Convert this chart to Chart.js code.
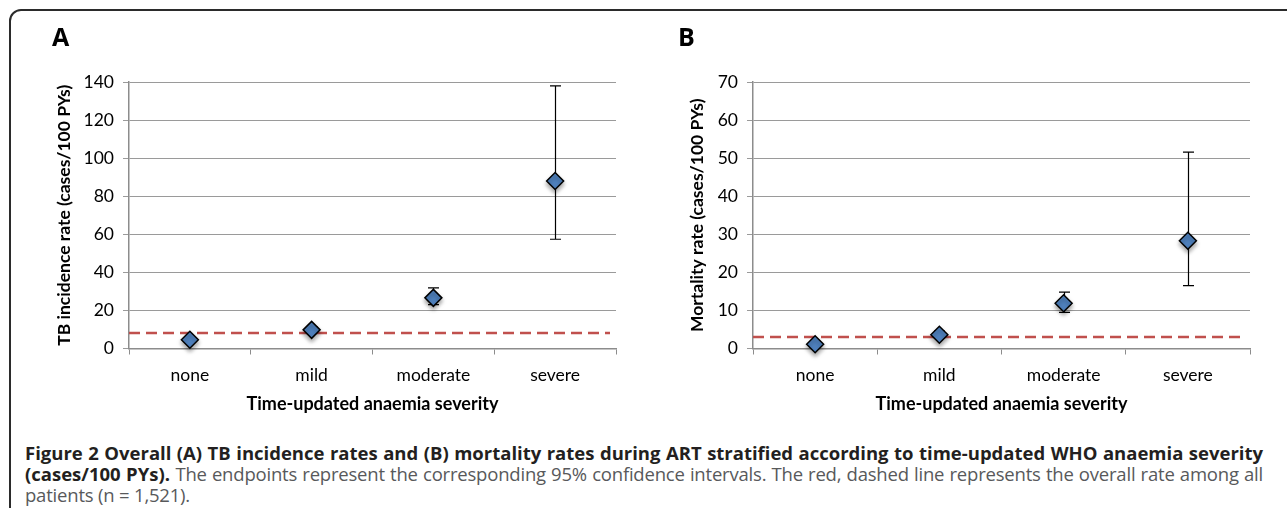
<!DOCTYPE html>
<html>
<head>
<meta charset="utf-8">
<script src="https://cdn.jsdelivr.net/npm/chart.js@4/dist/chart.umd.min.js"></script>
<style>
  body { margin: 0; width: 1287px; height: 508px; background: #fff; overflow: hidden; position: relative; font-family: "Open Sans", sans-serif; }
  .frame { position: absolute; left: 9px; top: 9px; width: 1400px; height: 600px; border: 2px solid #2b2b2b; border-radius: 12px; }
  canvas { position: absolute; top: 0; }
  #graficoA { left: 0; }
  #graficoB { left: 640px; }
  .painel { position: absolute; font: bold 25px "Open Sans", sans-serif; color: #000; }
  .legenda { position: absolute; left: 25px; width: 1238px; font-size: 15px; line-height: 21px; color: #58595b; }
  .legenda div { text-align: justify; text-align-last: justify; white-space: nowrap; }
  .legenda div.ultima { text-align-last: left; }
  .legenda b { color: #231f20; }
  .medida { position: absolute; visibility: hidden; white-space: nowrap; }
</style>
</head>
<body>
<div class="frame"></div>
<canvas id="graficoA" width="640" height="420"></canvas>
<canvas id="graficoB" width="647" height="420"></canvas>
<div class="painel" style="left:52px; top:19px;">A</div>
<div class="painel" style="left:678px; top:19px;">B</div>
<div class="legenda" id="legenda">
  <div id="linha1"><b>Figure 2 Overall (A) TB incidence rates and (B) mortality rates during ART stratified according to time-updated WHO anaemia severity</b></div>
  <div id="linha2"><b>(cases/100 PYs).</b> <span class="reg">The endpoints represent the corresponding 95% confidence intervals. The red, dashed line represents the overall rate among all</span></div>
  <div class="ultima"><span class="reg">patients (n = 1,521).</span></div>
</div>
<script>
const categorias = ['none', 'mild', 'moderate', 'severe'];

// A: incidência de TB (casos/100 PYs)
const tbTaxa = [4.6, 9.8, 26.6, 88];
const tbInferior = [3.8, 8.6, 23, 57.4];
const tbSuperior = [5.6, 11.2, 31.8, 138];
const tbGeral = 8.1;
const tbTicks = { max: 140, passo: 20 };

// B: mortalidade (casos/100 PYs)
const mortTaxa = [1.1, 3.6, 11.9, 28.3];
const mortInferior = [0.7, 2.8, 9.5, 16.5];
const mortSuperior = [1.7, 4.6, 14.8, 51.6];
const mortGeral = 3.0;
const mortTicks = { max: 70, passo: 10 };

const fonte = 'Lato';

// legenda: maior fonte em que a primeira linha cabe; texto normal mais apertado
(function ajustarLegenda() {
    const leg = document.getElementById('legenda');
    const largura = 1228;
    const medir = (html, estilo) => {
        const s = document.createElement('span');
        s.className = 'medida';
        s.innerHTML = html;
        Object.assign(s.style, estilo);
        document.body.appendChild(s);
        const w = s.getBoundingClientRect().width;
        s.remove();
        return w;
    };
    let tamanho = 19;
    const texto1 = document.querySelector('#linha1 b').innerHTML;
    while (tamanho > 12 && medir(texto1, { fontSize: tamanho + 'px', fontWeight: 'bold' }) > largura) {
        tamanho -= 0.25;
    }
    leg.style.fontSize = tamanho + 'px';
    leg.style.top = (452 - 10.5) + 'px';
    let espaco = 0;
    const texto2 = document.getElementById('linha2').innerHTML;
    while (espaco > -2 && medir(texto2, { fontSize: tamanho + 'px', letterSpacing: espaco + 'px' }) > largura) {
        espaco -= 0.05;
    }
    document.querySelectorAll('.legenda .reg').forEach(el => { el.style.letterSpacing = espaco + 'px'; });
})();

// barras de erro + linha tracejada da taxa geral
const extras = {
    id: 'extras',
    beforeDatasetsDraw(chart, args, opts) {
        const { ctx, chartArea, scales: { x, y } } = chart;
        ctx.save();
        // linha vermelha tracejada
        const yg = y.getPixelForValue(opts.geral);
        ctx.strokeStyle = '#C0504D';
        ctx.lineWidth = 2.5;
        ctx.setLineDash([11, 6]);
        ctx.beginPath();
        ctx.moveTo(chartArea.left, yg);
        ctx.lineTo(chartArea.right - 6, yg);
        ctx.stroke();
        ctx.setLineDash([]);
        // barras de erro
        ctx.strokeStyle = '#000';
        ctx.lineWidth = 1.2;
        opts.inferior.forEach((lo, i) => {
            const px = Math.round(x.getPixelForValue(i)) + 0.5;
            const y1 = y.getPixelForValue(lo);
            const y2 = y.getPixelForValue(opts.superior[i]);
            ctx.beginPath();
            ctx.moveTo(px, y1); ctx.lineTo(px, y2);
            ctx.moveTo(px - 5.5, y1); ctx.lineTo(px + 5.5, y1);
            ctx.moveTo(px - 5.5, y2); ctx.lineTo(px + 5.5, y2);
            ctx.stroke();
        });
        ctx.restore();
    },
    beforeDatasetDraw(chart) {
        const ctx = chart.ctx;
        ctx.save();
        ctx.shadowColor = 'rgba(0,0,0,0.35)';
        ctx.shadowBlur = 4;
        ctx.shadowOffsetY = 3;
    },
    afterDatasetDraw(chart) {
        chart.ctx.restore();
    }
};

function criarGrafico(id, taxa, inferior, superior, geral, ticks, tituloY, layout) {
    return new Chart(document.getElementById(id), {
        type: 'line',
        data: {
            labels: categorias,
            datasets: [{
                data: taxa,
                showLine: false,
                pointStyle: 'rectRot',
                pointRadius: 8.5,
                pointHoverRadius: 8.5,
                pointBackgroundColor: '#4F81BD',
                pointBorderColor: '#000',
                pointBorderWidth: 1.5,
                clip: false
            }]
        },
        options: {
            responsive: false,
            animation: false,
            layout: { padding: { top: 82, left: 0, right: layout.direita, bottom: 0 } },
            plugins: {
                legend: { display: false },
                tooltip: { enabled: false },
                extras: { inferior: inferior, superior: superior, geral: geral }
            },
            scales: {
                x: {
                    offset: true,
                    grid: { offset: true, drawOnChartArea: false, drawTicks: true, tickLength: 6, color: '#8c8c8c' },
                    border: { color: '#8c8c8c', width: 1.5 },
                    ticks: { color: '#000', padding: 10, font: { family: fonte, size: 17.5 } },
                    title: { display: true, text: 'Time-updated anaemia severity', color: '#000',
                        font: { family: fonte, size: 18, weight: 'bold' }, padding: { top: 0, bottom: 5 } },
                    afterFit: (s) => { s.height = 420 - 348.5; }
                },
                y: {
                    min: 0,
                    max: ticks.max,
                    grid: { color: '#9a9a9a', tickLength: 6, lineWidth: 1 },
                    border: { color: '#8c8c8c', width: 1.5 },
                    ticks: { stepSize: ticks.passo, color: '#000', padding: 9, font: { family: fonte, size: 17.5 } },
                    title: { display: true, text: tituloY, color: '#000',
                        font: { family: fonte, size: 17.5, weight: 'bold' }, padding: { top: layout.tituloY, bottom: 0 } },
                    afterFit: (s) => { s.width = layout.eixoY; }
                }
            }
        },
        plugins: [extras]
    });
}

criarGrafico('graficoA', tbTaxa, tbInferior, tbSuperior, tbGeral, tbTicks,
    'TB incidence rate (cases/100 PYs)', { direita: 24, eixoY: 129, tituloY: 54 });
criarGrafico('graficoB', mortTaxa, mortInferior, mortSuperior, mortGeral, mortTicks,
    'Mortality rate (cases/100 PYs)', { direita: 37, eixoY: 113, tituloY: 47 });
</script>
</body>
</html>
